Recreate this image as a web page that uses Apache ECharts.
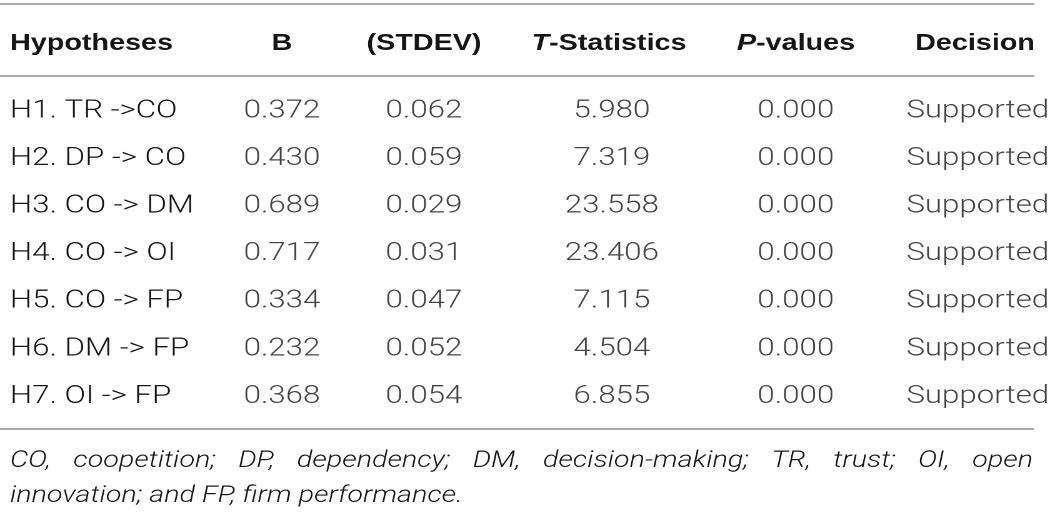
<!DOCTYPE html>
<html>
<head>
<meta charset="utf-8">
<script src="https://cdn.jsdelivr.net/npm/echarts@6/dist/echarts.min.js"></script>
<style>
html,body{margin:0;padding:0;background:#fff;overflow:hidden;width:1049px;height:518px;}
#chart{width:839.2px;height:518px;transform:scaleX(1.25);transform-origin:0 0;}
</style>
</head>
<body>
<div id="chart"></div>
<script>
// ---- data ----
const headers = ['Hypotheses', 'B', '(STDEV)', '{i|T}-Statistics', '{i|P}-values', 'Decision'];
const hypotheses = ['H1. TR ->CO', 'H2. DP -> CO', 'H3. CO -> DM', 'H4. CO -> OI', 'H5. CO -> FP', 'H6. DM -> FP', 'H7. OI -> FP'];
const betaValues = [0.372, 0.430, 0.689, 0.717, 0.334, 0.232, 0.368];
const stdevValues = [0.062, 0.059, 0.029, 0.031, 0.047, 0.052, 0.054];
const tStatistics = [5.980, 7.319, 23.558, 23.406, 7.115, 4.504, 6.855];
const pValues = [0.000, 0.000, 0.000, 0.000, 0.000, 0.000, 0.000];
const decisions = ['Supported', 'Supported', 'Supported', 'Supported', 'Supported', 'Supported', 'Supported'];
const footnoteLines = [
  'CO, coopetition; DP, dependency; DM, decision-making; TR, trust; OI, open',
  'innovation; and FP, firm performance.'
];

// ---- layout (positions / styles only, in final page pixels) ----
const SX = 1.25;               // horizontal stretch of the whole picture
const W = 1049, H = 518;
const COL_X = [282, 424, 612, 796, 978];
const HEAD_X = [10, 282, 424, 609, 796, 975];
const HEADER_Y = 43.5;
const ROW_FIRST = 111, ROW_H = 47.6;
const LINE_Y = [4, 76, 429];
const LINE_X2 = 1034;
const FOOT_Y = [461, 496];
const FOOT_X1 = 10, FOOT_X2 = 1033;
const BODY_FONT = 'Roboto';
const BODY_SIZE = 25;
const BODY_COLOR = '#151515';
const HEAD_FONT = '"Liberation Sans", Arial, sans-serif';
const HEAD_SIZE = 23;
const HEAD_COLOR = '#161616';
const FOOT_SIZE = 23;
const px = v => v / SX;

const columns = [
  {vals: betaValues, fmt: v => v.toFixed(3)},
  {vals: stdevValues, fmt: v => v.toFixed(3)},
  {vals: tStatistics, fmt: v => v.toFixed(3)},
  {vals: pValues, fmt: v => v.toFixed(3)},
  {vals: decisions, fmt: v => v}
];

const chart = echarts.init(document.getElementById('chart'), null, {renderer: 'canvas', devicePixelRatio: 2});

const bodyLabel = {
  show: true, position: 'inside', color: BODY_COLOR,
  fontFamily: BODY_FONT, fontWeight: 300, fontSize: BODY_SIZE
};

const series = columns.map((col, c) => ({
  type: 'scatter',
  symbolSize: 1,
  itemStyle: {color: 'rgba(0,0,0,0)'},
  silent: true,
  label: Object.assign({}, bodyLabel, {
    formatter: p => col.fmt(col.vals[p.dataIndex])
  }),
  data: col.vals.map((v, i) => [px(COL_X[c]), hypotheses[i]])
}));

// header graphics and rules
const graphics = [];
headers.forEach((h, k) => {
  graphics.push({
    type: 'text', x: px(HEAD_X[k]), y: HEADER_Y, silent: true,
    style: {
      text: h, fill: HEAD_COLOR,
      fontWeight: 'bold', fontSize: HEAD_SIZE, fontFamily: HEAD_FONT,
      align: k === 0 ? 'left' : 'center', verticalAlign: 'middle',
      rich: {i: {fontStyle: 'italic', fontWeight: 'bold', fontSize: HEAD_SIZE, fontFamily: HEAD_FONT, fill: HEAD_COLOR}}
    }
  });
});
LINE_Y.forEach(y => {
  graphics.push({
    type: 'line', silent: true,
    shape: {x1: 0, y1: y, x2: px(LINE_X2), y2: y},
    style: {stroke: '#ababab', lineWidth: 2}
  });
});

// footnote: first line justified, second left
const mc = document.createElement('canvas').getContext('2d');
mc.font = 'italic 300 ' + FOOT_SIZE + 'px ' + BODY_FONT;
const footStyle = {fill: BODY_COLOR, fontFamily: BODY_FONT, fontStyle: 'italic', fontWeight: 300, fontSize: FOOT_SIZE, verticalAlign: 'middle', align: 'left'};
(function () {
  const words = footnoteLines[0].split(' ');
  const widths = words.map(w => mc.measureText(w).width);
  const total = widths.reduce((a, b) => a + b, 0);
  const gap = (px(FOOT_X2) - px(FOOT_X1) - total) / (words.length - 1);
  let x = px(FOOT_X1);
  words.forEach((w, k) => {
    graphics.push({type: 'text', x: x, y: FOOT_Y[0], silent: true, style: Object.assign({text: w}, footStyle)});
    x += widths[k] + gap;
  });
  graphics.push({type: 'text', x: px(FOOT_X1), y: FOOT_Y[1], silent: true, style: Object.assign({text: footnoteLines[1]}, footStyle)});
})();

chart.setOption({
  animation: false,
  backgroundColor: '#fff',
  grid: {left: 0, right: 0, top: ROW_FIRST - ROW_H / 2, height: ROW_H * hypotheses.length},
  xAxis: {type: 'value', min: 0, max: px(W), show: false},
  yAxis: {
    type: 'category', inverse: true, data: hypotheses,
    axisLine: {show: false}, axisTick: {show: false}, splitLine: {show: false},
    axisLabel: {
      show: true, inside: true, margin: px(10), align: 'left',
      color: BODY_COLOR, fontFamily: BODY_FONT, fontWeight: 300, fontSize: BODY_SIZE
    }
  },
  series: series,
  graphic: graphics
});
</script>
</body>
</html>
